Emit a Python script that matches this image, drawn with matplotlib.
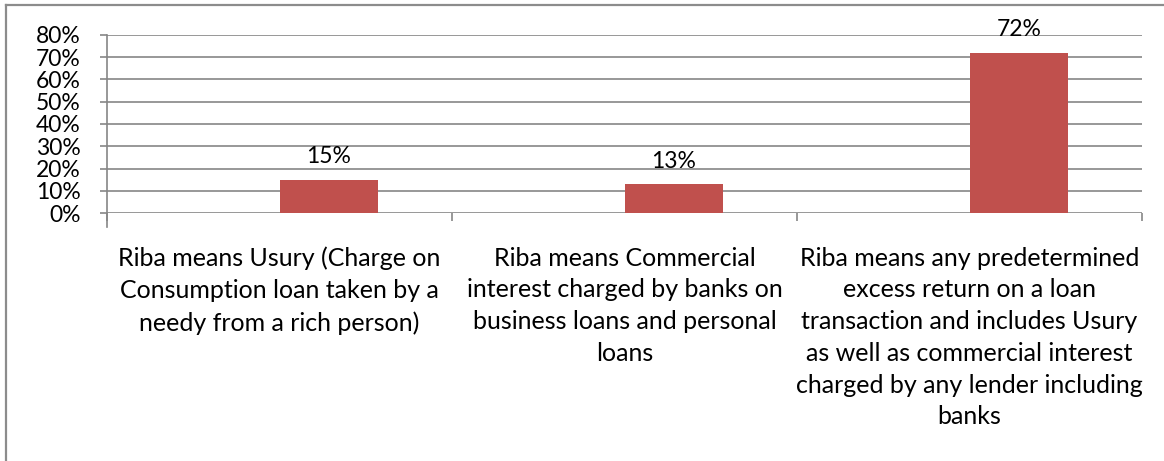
import matplotlib
matplotlib.use("Agg")
import matplotlib.pyplot as plt
from matplotlib.lines import Line2D
import numpy as np

categories = [
    "Riba means Usury (Charge on\nConsumption loan taken by a\nneedy from a rich person)",
    "Riba means Commercial\ninterest charged by banks on\nbusiness loans and personal\nloans",
    "Riba means any predetermined\nexcess return on a loan\ntransaction and includes Usury\nas well as commercial interest\ncharged by any lender including\nbanks",
]
values = [0.15, 0.13, 0.72]
value_labels = ["15%", "13%", "72%"]
yticks = [0.0, 0.1, 0.2, 0.3, 0.4, 0.5, 0.6, 0.7, 0.8]
ytick_labels = ["0%", "10%", "20%", "30%", "40%", "50%", "60%", "70%", "80%"]

plt.rcParams['font.family'] = ['Lato', 'DejaVu Sans']

W, H = 1164, 461
fig = plt.figure(figsize=(W / 100, H / 100), dpi=100)
ax = fig.add_axes([107 / W, 1 - 213.3 / H, (1142 - 107) / W, (213.3 - 34.7) / H])

grid_c = '#868686'
bar_c = '#C0504D'

x = np.arange(len(categories))
bw = 1 / 3.5  # two series, gap width 150%
bx = x + bw / 2
bars = ax.bar(bx, values, width=bw, color=bar_c, zorder=3)

ax.set_xlim(-0.5, len(categories) - 0.5)
ax.set_ylim(0, 0.8)
ax.set_yticks(yticks)
ax.set_yticklabels(ytick_labels, fontsize=16.5)
for y in yticks:
    ax.axhline(y, color=grid_c, lw=1.2, zorder=1)

for s in ['top', 'right', 'bottom']:
    ax.spines[s].set_visible(False)
ax.spines['left'].set_color(grid_c)
ax.spines['left'].set_linewidth(1.2)
ax.spines['left'].set_bounds(-0.06, 0.8)

ax.tick_params(axis='y', length=5, width=1.2, color=grid_c, pad=14, labelcolor='black')
ax.set_xticks(np.arange(-0.5, len(categories)))
ax.set_xticklabels([])
ax.tick_params(axis='x', which='major', length=6, width=1.2, color=grid_c)
ax.set_xticks(x, minor=True)
ax.set_xticklabels(categories, minor=True, fontsize=18, linespacing=1.46)
ax.tick_params(axis='x', which='minor', length=0, pad=24)

for xi, v, lab in zip(bx, values, value_labels):
    ax.annotate(lab, (xi, v), xytext=(0, 9), textcoords='offset points',
                ha='center', va='bottom', fontsize=16.5)

bc = '#8C8C8C'
fig.add_artist(Line2D([6 / W, 6 / W], [0, 1 - 5 / H], color=bc, lw=1.6, transform=fig.transFigure))
fig.add_artist(Line2D([6 / W, 1], [1 - 5 / H, 1 - 5 / H], color=bc, lw=1.6, transform=fig.transFigure))

fig.savefig("out.png", dpi=100)
